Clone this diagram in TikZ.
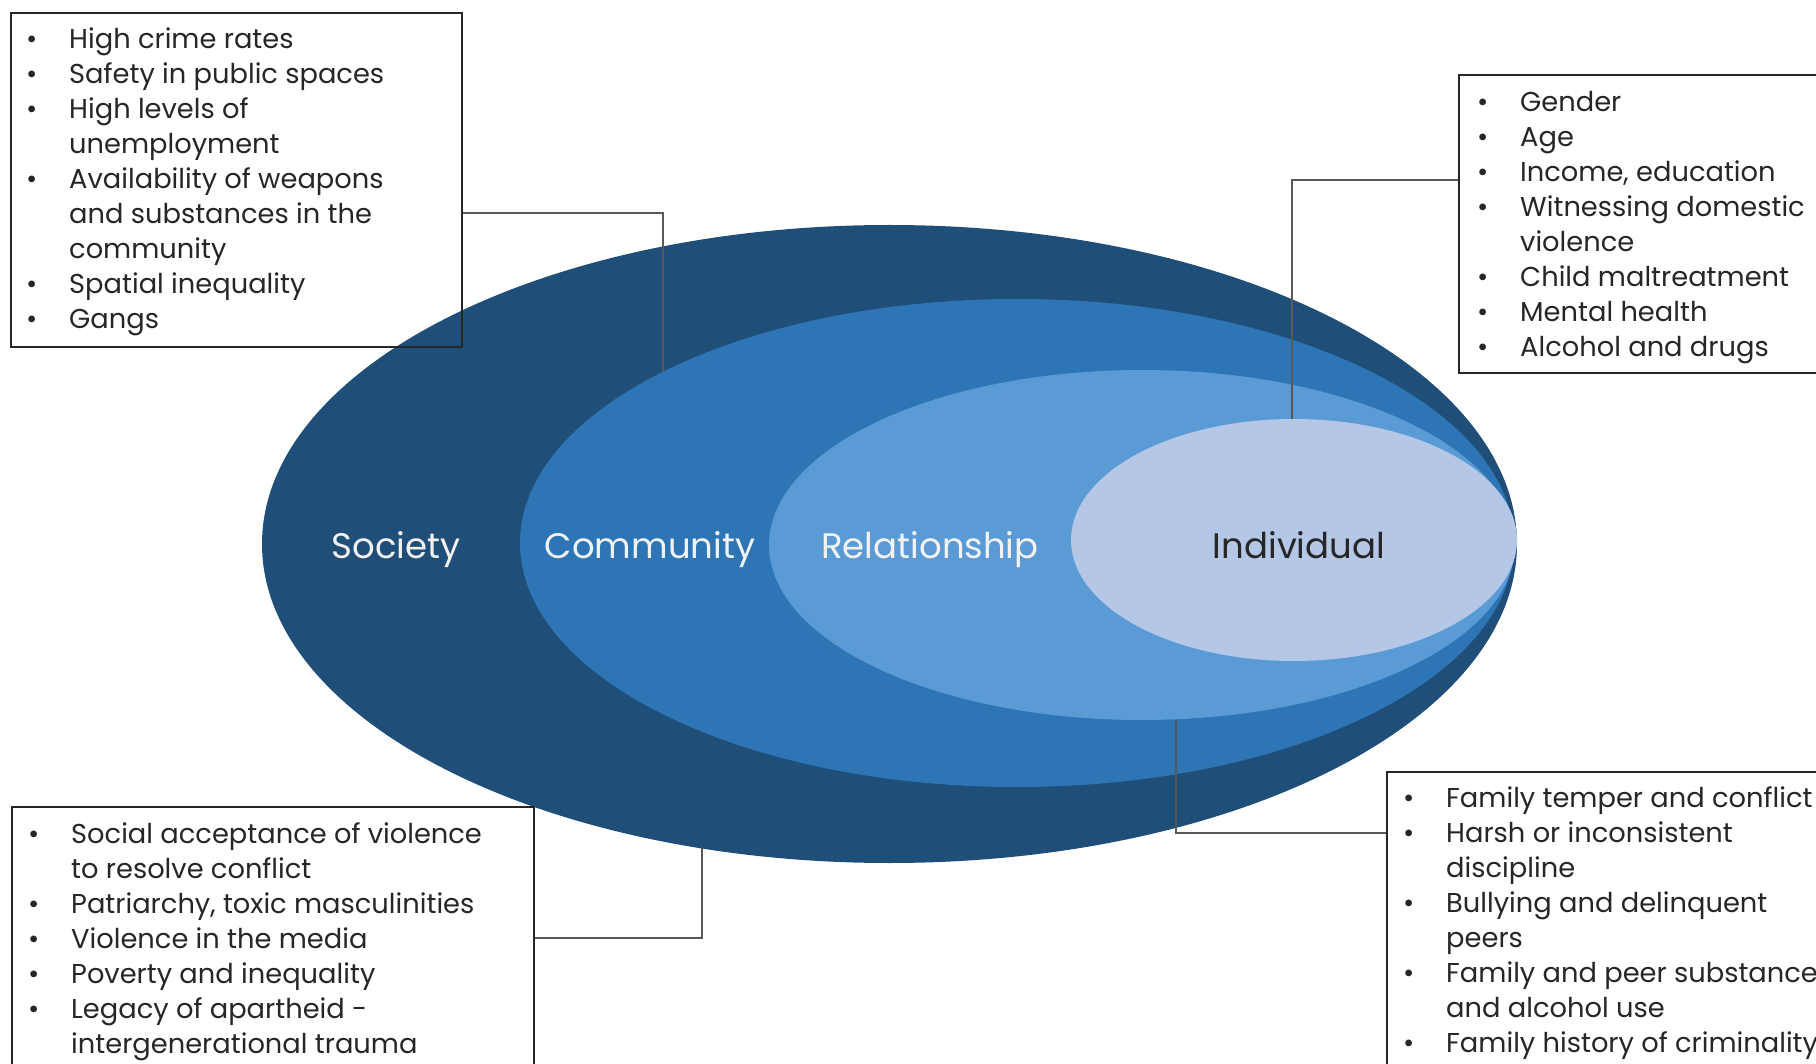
\documentclass[tikz,border=0pt]{standalone}
\usepackage{fontspec}
\setmainfont{Poppins}
\usetikzlibrary{shapes.geometric}
\definecolor{soc}{HTML}{1F4E79}
\definecolor{com}{HTML}{2E75B6}
\definecolor{rel}{HTML}{5B9BD5}
\definecolor{ind}{HTML}{B4C7E7}
\definecolor{txt}{HTML}{262626}
\definecolor{lnk}{HTML}{595959}
\newcommand\bitem[1]{\makebox[43pt][l]{\textbullet}#1}
\newcommand\bcont[1]{\hspace*{43pt}#1}
\begin{document}
\begin{tikzpicture}[x=1pt,y=-1pt,
  ring/.style={ellipse, draw=none, inner sep=0pt},
  lbl/.style={anchor=base, inner sep=0pt, font=\fontsize{35.5}{40}\selectfont, text=white!95!black},
  infobox/.style={draw=txt, line width=1.8pt, anchor=north west, inner sep=0pt},
  infotext/.style={anchor=base west, align=left, inner sep=0pt, text=txt, font=\fontsize{27.3}{35}\selectfont},
  conn/.style={draw=lnk, line width=1.3pt}]
\useasboundingbox (0,0) rectangle (1816,1064);
\clip (0,0) rectangle (1816,1064);
% rings
\node[ring, fill=soc, minimum width=1255pt, minimum height=638pt] (society) at (889.5,544) {};
\node[ring, fill=com, minimum width=994pt, minimum height=488pt] (community) at (1017,543) {};
\node[ring, fill=rel, minimum width=746pt, minimum height=350pt] (relationship) at (1142,545) {};
\node[ring, fill=ind, minimum width=446pt, minimum height=242pt] (individual) at (1294,540) {};
% labels
\node[lbl] (socl) at (396,558) {Society};
\node[lbl] (coml) at (650,558) {Community};
\node[lbl] (rell) at (930,558) {Relationship};
\node[lbl, text=txt] (indl) at (1299,558) {Individual};
% boxes
\node[infobox, minimum width=451pt, minimum height=334pt] (tl) at (10,12) {};
\node[infobox, minimum width=420pt, minimum height=298pt] (tr) at (1458,74) {};
\node[infobox, minimum width=522pt, minimum height=280pt] (bl) at (11,806) {};
\node[infobox, minimum width=450pt, minimum height=310pt] (br) at (1386,771) {};
% texts (anchored at the baseline of the last line)
\node[infotext] (tlt) at (26,329) {\bitem{High crime rates}\\ \bitem{Safety in public spaces}\\ \bitem{High levels of}\\ \bcont{unemployment}\\ \bitem{Availability of weapons}\\ \bcont{and substances in the}\\ \bcont{community}\\ \bitem{Spatial inequality}\\ \bitem{Gangs}};
\node[infotext] (trt) at (1477,356.5) {\bitem{Gender}\\ \bitem{Age}\\ \bitem{Income, education}\\ \bitem{Witnessing domestic}\\ \bcont{violence}\\ \bitem{Child maltreatment}\\ \bitem{Mental health}\\ \bitem{Alcohol and drugs}};
\node[infotext] (blt) at (28,1053) {\bitem{Social acceptance of violence}\\ \bcont{to resolve conflict}\\ \bitem{Patriarchy, toxic masculinities}\\ \bitem{Violence in the media}\\ \bitem{Poverty and inequality}\\ \bitem{Legacy of apartheid -}\\ \bcont{intergenerational trauma}};
\node[infotext] (brt) at (1403,1052) {\bitem{Family temper and conflict}\\ \bitem{Harsh or inconsistent}\\ \bcont{discipline}\\ \bitem{Bullying and delinquent}\\ \bcont{peers}\\ \bitem{Family and peer substance}\\ \bcont{and alcohol use}\\ \bitem{Family history of criminality}};
% connectors
\coordinate (k1) at (663,213); \coordinate (e1) at (663,372);
\coordinate (k2) at (1292,180); \coordinate (e2) at (1292,419);
\coordinate (k3) at (702,938); \coordinate (e3) at (702,848);
\coordinate (k4) at (1176,833); \coordinate (e4) at (1176,720);
\draw[conn] (k1 -| tl.east) -- (k1) -- (e1);
\draw[conn] (k2 -| tr.west) -- (k2) -- (e2);
\draw[conn] (k3 -| bl.east) -- (k3) -- (e3);
\draw[conn] (k4 -| br.west) -- (k4) -- (e4);
\end{tikzpicture}
\end{document}
